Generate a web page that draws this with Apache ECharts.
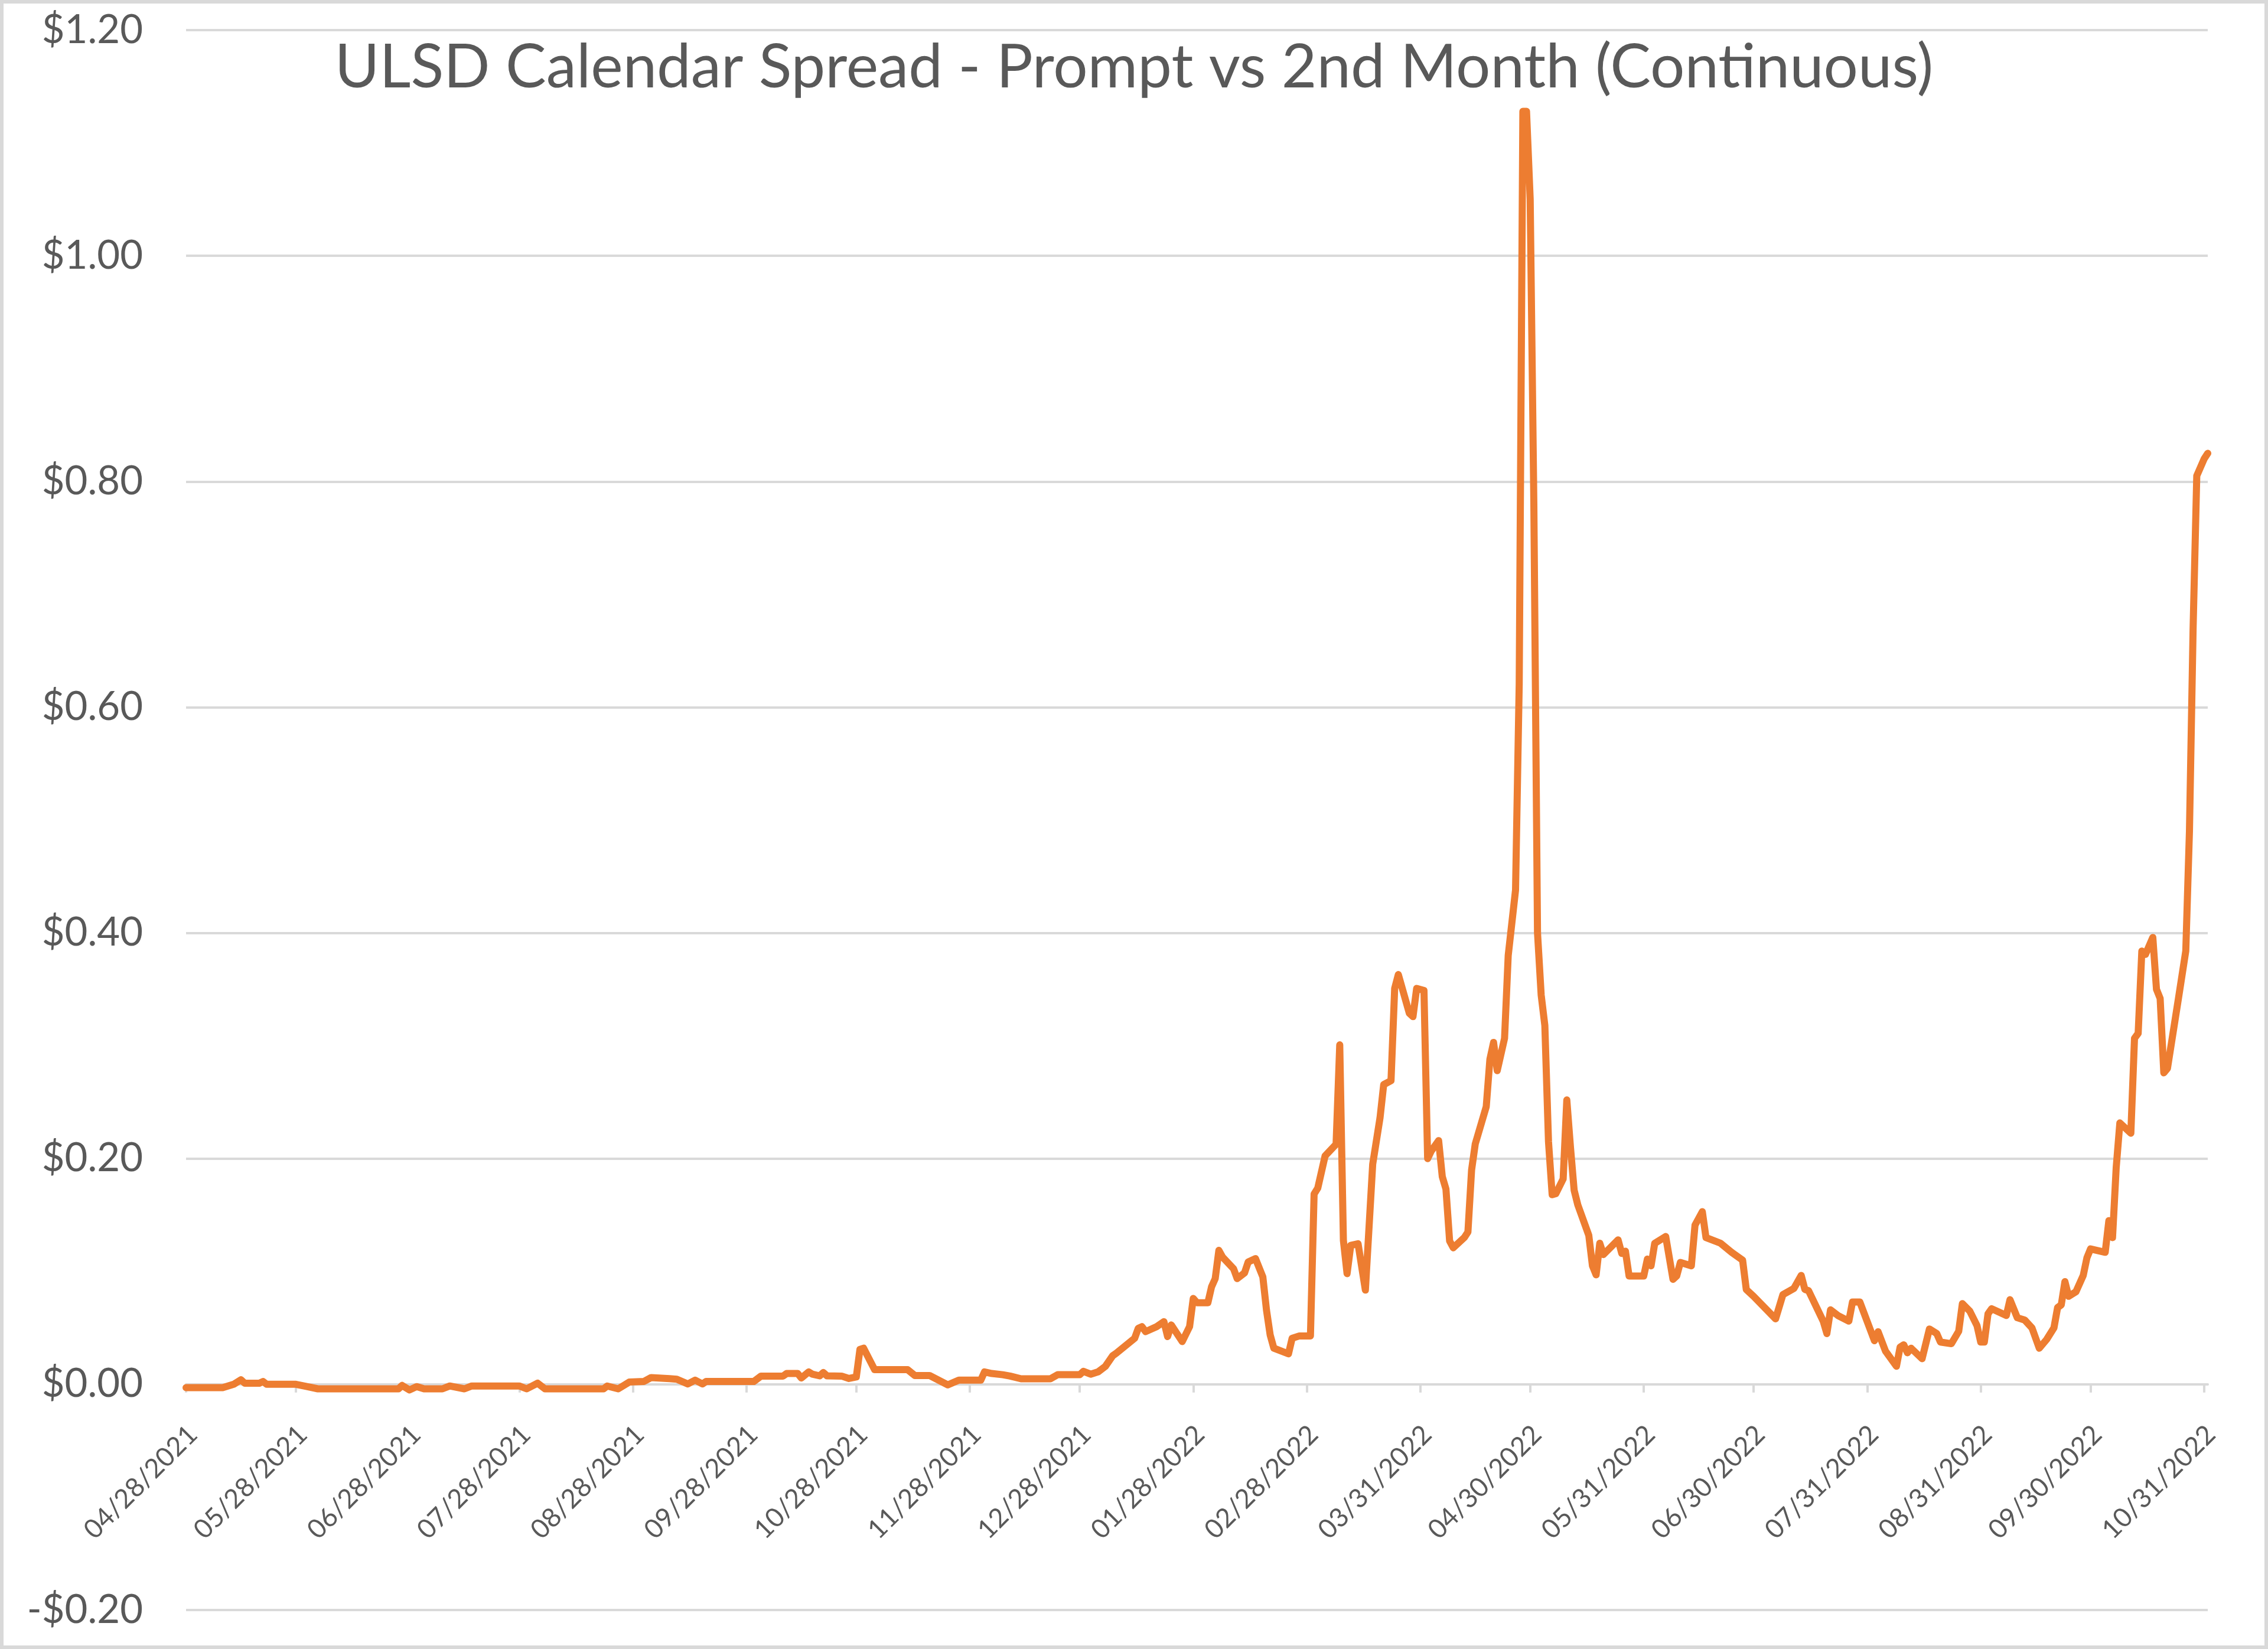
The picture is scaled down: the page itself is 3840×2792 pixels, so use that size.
<!DOCTYPE html>
<html><head><meta charset="utf-8">
<script src="https://cdn.jsdelivr.net/npm/echarts@6/dist/echarts.min.js"></script>
<style>html,body{margin:0;padding:0;background:#fff}#c{width:3840px;height:2792px}</style>
</head><body><div id="c"></div>
<script>
const chartTitle = 'ULSD Calendar Spread - Prompt vs 2nd Month (Continuous)';

const dates = [
'2021-04-28','2021-05-08','2021-05-11','2021-05-13','2021-05-14','2021-05-18','2021-05-19','2021-05-20','2021-05-28','2021-05-31',
'2021-06-03','2021-06-25','2021-06-26','2021-06-28','2021-06-30','2021-07-02','2021-07-07','2021-07-09','2021-07-13','2021-07-15',
'2021-07-28','2021-07-30','2021-08-02','2021-08-04','2021-08-20','2021-08-21','2021-08-24','2021-08-27','2021-08-31','2021-09-02',
'2021-09-07','2021-09-09','2021-09-12','2021-09-14','2021-09-16','2021-09-17','2021-09-30','2021-10-02','2021-10-08','2021-10-09',
'2021-10-12','2021-10-13','2021-10-15','2021-10-16','2021-10-18','2021-10-19','2021-10-20','2021-10-24','2021-10-26','2021-10-28',
'2021-10-29','2021-10-30','2021-11-02','2021-11-11','2021-11-13','2021-11-17','2021-11-22','2021-11-25','2021-12-01','2021-12-02',
'2021-12-04','2021-12-07','2021-12-09','2021-12-12','2021-12-20','2021-12-22','2021-12-28','2021-12-29','2021-12-31','2022-01-02',
'2022-01-04','2022-01-06','2022-01-07','2022-01-12','2022-01-13','2022-01-14','2022-01-15','2022-01-18','2022-01-20','2022-01-21',
'2022-01-22','2022-01-25','2022-01-27','2022-01-28','2022-01-29','2022-02-01','2022-02-02','2022-02-03','2022-02-04','2022-02-05',
'2022-02-08','2022-02-09','2022-02-11','2022-02-12','2022-02-14','2022-02-16','2022-02-17','2022-02-18','2022-02-19','2022-02-23',
'2022-02-24','2022-02-26','2022-03-01','2022-03-02','2022-03-03','2022-03-05','2022-03-08','2022-03-09','2022-03-10','2022-03-11',
'2022-03-12','2022-03-14','2022-03-16','2022-03-18','2022-03-20','2022-03-21','2022-03-23','2022-03-24','2022-03-25','2022-03-28',
'2022-03-29','2022-03-30','2022-04-01','2022-04-02','2022-04-03','2022-04-05','2022-04-06','2022-04-07','2022-04-08','2022-04-09',
'2022-04-12','2022-04-13','2022-04-14','2022-04-15','2022-04-18','2022-04-19','2022-04-20','2022-04-21','2022-04-23','2022-04-24',
'2022-04-26','2022-04-27','2022-04-28','2022-04-29','2022-04-30','2022-05-01','2022-05-02','2022-05-03','2022-05-04','2022-05-05',
'2022-05-06','2022-05-07','2022-05-09','2022-05-10','2022-05-11','2022-05-12','2022-05-13','2022-05-16','2022-05-17','2022-05-18',
'2022-05-19','2022-05-20','2022-05-24','2022-05-25','2022-05-26','2022-05-27','2022-05-31','2022-06-01','2022-06-02','2022-06-03',
'2022-06-06','2022-06-08','2022-06-09','2022-06-10','2022-06-13','2022-06-14','2022-06-16','2022-06-17','2022-06-21','2022-06-24',
'2022-06-27','2022-06-28','2022-06-30','2022-07-06','2022-07-08','2022-07-11','2022-07-13','2022-07-14','2022-07-15','2022-07-19',
'2022-07-20','2022-07-21','2022-07-23','2022-07-26','2022-07-27','2022-07-29','2022-08-02','2022-08-03','2022-08-05','2022-08-08',
'2022-08-09','2022-08-10','2022-08-11','2022-08-12','2022-08-15','2022-08-17','2022-08-19','2022-08-20','2022-08-23','2022-08-25',
'2022-08-26','2022-08-28','2022-08-30','2022-08-31','2022-09-01','2022-09-02','2022-09-03','2022-09-07','2022-09-08','2022-09-10',
'2022-09-12','2022-09-14','2022-09-16','2022-09-18','2022-09-20','2022-09-21','2022-09-22','2022-09-23','2022-09-24','2022-09-26',
'2022-09-28','2022-09-29','2022-09-30','2022-10-04','2022-10-05','2022-10-06','2022-10-07','2022-10-08','2022-10-11','2022-10-12',
'2022-10-13','2022-10-14','2022-10-15','2022-10-17','2022-10-18','2022-10-19','2022-10-20','2022-10-21','2022-10-24','2022-10-26',
'2022-10-27','2022-10-28','2022-10-29','2022-10-31','2022-11-01'
];

const values = [
-0.003,-0.003,0.000,0.004,0.001,0.001,0.0025,0.000,0.000,-0.002,
-0.004,-0.004,-0.001,-0.005,-0.002,-0.004,-0.004,-0.0015,-0.004,-0.0015,
-0.0015,-0.004,0.001,-0.004,-0.004,-0.0015,-0.004,0.002,0.0025,0.006,
0.005,0.0045,0.0003,0.0037,0.0003,0.0025,0.0025,0.0073,0.0073,0.0096,
0.0096,0.0056,0.011,0.009,0.0075,0.0105,0.0075,0.0073,0.0052,0.0065,
0.031,0.032,0.013,0.013,0.0078,0.0078,-0.0005,0.0037,0.0037,0.011,
0.0096,0.0085,0.0073,0.0049,0.0049,0.0085,0.0085,0.0115,0.009,0.011,
0.0159,0.0253,0.0276,0.0408,0.0497,0.0511,0.0467,0.0511,0.0555,0.0423,
0.0526,0.0379,0.0511,0.0761,0.0723,0.0723,0.0864,0.0937,0.1187,0.1128,
0.1025,0.0937,0.0987,0.1084,0.1114,0.0952,0.0658,0.0438,0.032,0.027,
0.0408,0.0429,0.0429,0.1686,0.1739,0.2024,0.2127,0.3008,0.1275,0.0981,
0.1231,0.1246,0.0835,0.1951,0.2362,0.2656,0.2691,0.3508,0.3631,0.3288,
0.3258,0.3508,0.349,0.200,0.2068,0.216,0.184,0.173,0.127,0.121,
0.130,0.135,0.19,0.213,0.246,0.288,0.303,0.278,0.3066,0.38,
0.438,0.62,1.128,1.128,1.05,0.78,0.40,0.345,0.318,0.215,
0.168,0.169,0.182,0.252,0.21,0.172,0.159,0.132,0.105,0.097,
0.125,0.115,0.128,0.116,0.118,0.096,0.096,0.111,0.105,0.125,
0.131,0.093,0.096,0.108,0.105,0.141,0.153,0.13,0.125,0.117,
0.110,0.084,0.078,0.058,0.0795,0.085,0.0965,0.084,0.083,0.056,
0.045,0.066,0.061,0.056,0.073,0.073,0.0386,0.0466,0.0295,0.016,
0.033,0.035,0.028,0.032,0.0227,0.049,0.045,0.0375,0.036,0.047,
0.0715,0.065,0.052,0.0375,0.0375,0.0625,0.067,0.061,0.075,0.059,
0.057,0.05,0.032,0.0397,0.05,0.068,0.0704,0.091,0.078,0.082,
0.0965,0.112,0.12,0.117,0.145,0.13,0.192,0.2316,0.2225,0.3066,
0.311,0.384,0.381,0.396,0.35,0.342,0.276,0.28,0.342,0.384,
0.49,0.67,0.805,0.82,0.825
];

const tickLabels = [
'04/28/2021','05/28/2021','06/28/2021','07/28/2021','08/28/2021','09/28/2021','10/28/2021',
'11/28/2021','12/28/2021','01/28/2022','02/28/2022','03/31/2022','04/30/2022','05/31/2022',
'06/30/2022','07/31/2022','08/31/2022','09/30/2022','10/31/2022'
];
const axisStart = '04/28/2021';
const axisEnd = '11/01/2022';
const yMin = -0.2, yMax = 1.2, yStep = 0.2;

const DAY = 86400000;
function usDay(s){ const p = s.split('/').map(Number); return Date.UTC(p[2], p[0]-1, p[1]); }
function isoDay(s){ const p = s.split('-').map(Number); return Date.UTC(p[0], p[1]-1, p[2]); }
const START = usDay(axisStart);
const toX = t => Math.round((t - START) / DAY);

const seriesData = dates.map((d, i) => [toX(isoDay(d)), values[i]]);
const tickX = tickLabels.map(s => toX(usDay(s)));
const labelAt = {};
tickX.forEach((x, i) => { labelAt[x] = tickLabels[i]; });

const W = 3840, H = 2792;
const gridTop = 51, gridBottom = 66;
const plotH = H - gridTop - gridBottom;
const zeroOffset = -plotH * (0 - yMin) / (yMax - yMin);

const chart = echarts.init(document.getElementById('c'), null, {renderer: 'canvas'});
chart.setOption({
  animation: false,
  backgroundColor: '#ffffff',
  title: {
    text: chartTitle,
    left: 'center',
    top: 58,
    textStyle: {fontFamily: 'Lato', fontSize: 103, fontWeight: 'normal', color: '#595959'}
  },
  grid: {left: 315, right: 102, top: gridTop, bottom: gridBottom, containLabel: false, outerBoundsMode: 'none'},
  xAxis: {
    type: 'value',
    position: 'bottom',
    offset: zeroOffset,
    min: 0,
    max: toX(usDay(axisEnd)),
    axisLine: {show: true, onZero: false, lineStyle: {color: '#d9d9d9', width: 4}},
    axisTick: {show: true, customValues: tickX, length: 14, lineStyle: {color: '#d9d9d9', width: 4}},
    axisLabel: {
      customValues: tickX, rotate: 45, margin: 66,
      align: 'right', verticalAlign: 'top', padding: [-6, 0, 0, 0],
      formatter: v => labelAt[Math.round(v)] || '',
      fontFamily: 'Lato', fontSize: 45, color: '#595959'
    },
    splitLine: {show: false}
  },
  yAxis: {
    type: 'value', min: yMin, max: yMax, interval: yStep,
    axisLine: {show: false}, axisTick: {show: false},
    axisLabel: {
      formatter: v => (v < -1e-9 ? '-$' : '$') + Math.abs(v).toFixed(2),
      fontFamily: 'Lato', fontSize: 67, color: '#595959', margin: 73
    },
    splitLine: {lineStyle: {color: '#d9d9d9', width: 4}}
  },
  series: [{
    type: 'line', data: seriesData, symbol: 'none', showSymbol: false,
    lineStyle: {color: '#ED7D31', width: 12, join: 'round', cap: 'round'},
    z: 3
  }],
  graphic: [{
    type: 'rect', silent: true, z: 100,
    shape: {x: 3, y: 3, width: 3834, height: 2786},
    style: {fill: 'none', stroke: '#d9d9d9', lineWidth: 6}
  }]
});
</script></body></html>
